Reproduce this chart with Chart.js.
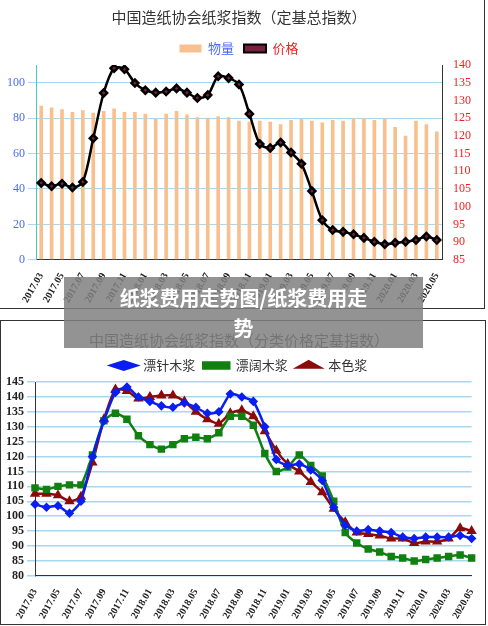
<!DOCTYPE html>
<html lang="zh">
<head>
<meta charset="UTF-8">
<title>纸浆费用走势图</title>
<script src="https://cdn.jsdelivr.net/npm/chart.js@4.4.0/dist/chart.umd.min.js"></script>
<style>
  body { margin: 0; width: 488px; height: 626px; background: #fff; position: relative; overflow: hidden; }
  #top { position: absolute; left: 0; top: 0; width: 484px; height: 308px; border-right: 1px solid #333; border-bottom: 1px solid #333; }
  #bottom { position: absolute; left: 0; top: 320px; width: 484px; height: 303px; border: 1px solid #333; }
  #band { position: absolute; left: 64px; top: 277px; width: 359px; height: 71px; background: rgba(128,128,128,0.85);
          color: #fff; font: bold 20px "Noto Sans CJK SC"; text-align: center; line-height: 30px; padding-top: 6px; box-sizing: border-box; }
</style>
</head>
<body>
<div id="top"><canvas id="c1"></canvas></div>
<div id="bottom"><canvas id="c2"></canvas></div>
<div id="band">纸浆费用走势图/纸浆费用走<br>势</div>
<script>
const months = ['2017.03','2017.04','2017.05','2017.06','2017.07','2017.08','2017.09','2017.10','2017.11','2017.12',
  '2018.01','2018.02','2018.03','2018.04','2018.05','2018.06','2018.07','2018.08','2018.09','2018.10','2018.11','2018.12',
  '2019.01','2019.02','2019.03','2019.04','2019.05','2019.06','2019.07','2019.08','2019.09','2019.10','2019.11','2019.12',
  '2020.01','2020.02','2020.03','2020.04','2020.05'];
const volume = [87,86,85,83.5,84.5,83,84,85.5,83.5,83.5,82.5,79.5,82.5,84,82,80.5,80,81,80.5,78.5,78,78.5,78,76.5,79,79.5,78.5,77.5,79,78.5,80,80,79,80,75,70,78.5,76.5,72.5];
const price = [106.7,105.8,106.5,105.4,107,119.3,132.1,139.1,138.8,134.9,132.9,132.2,132.5,133.4,132.2,130.7,131.5,136.8,136.3,134.5,126.2,117.7,116.6,118.1,115.3,112.1,104.4,96.2,93.4,92.9,92.2,91.2,90.1,89.4,89.8,90.1,90.6,91.6,90.6];
const softwood = [104,103,103.5,101,105,120,132,141.5,143.3,140,138.5,137,136.5,138,136.5,134.5,135,141,140,138.5,130,119,117,117.5,115.5,112,103,97,95,95.5,95,94.5,93,92.5,93,93,93,93.5,92.5];
const hardwood = [109.5,109,110,110.5,110.5,120.5,132,134.5,132.5,127,124,122.5,124,126,126.5,126,128,133.5,133.5,130.5,121,115,116.5,120.5,117,113.5,105,94.5,91,89,88,86.5,86,85,85.5,86,86.5,87,86];
const unbleached = [107.5,107.5,107,105,106.5,118,132.5,142.5,142,139.5,140,140.5,140.5,138.5,135,132.5,131,134.5,135.5,133.5,128.5,122,117.5,115,111.5,108,102.5,98,94.5,94,93.5,92.5,92.5,91,91.5,91.5,92.5,96,95];

const serif = '"Liberation Serif", "DejaVu Serif", serif';
const cjk = '"Noto Sans CJK SC", sans-serif';
const xTicks = {
  autoSkip: false, maxRotation: 60, minRotation: 60, color: '#222',
  font: { family: serif, size: 10, weight: 'bold' },
  callback: function (v, i) { return i % 2 === 0 ? months[i] : ''; }
};

new Chart(document.getElementById('c1'), {
  data: {
    labels: months,
    datasets: [
      { type: 'line', label: '价格', data: price, yAxisID: 'y1', borderColor: '#000', borderWidth: 2.5,
        pointStyle: 'rectRot', pointRadius: 3.5, pointBackgroundColor: '#7a1f3d', pointBorderColor: '#000', tension: 0.3 },
      { type: 'bar', label: '物量', data: volume, yAxisID: 'y', backgroundColor: '#f8c08f', barPercentage: 0.35, categoryPercentage: 1 }
    ]
  },
  options: {
    responsive: true, maintainAspectRatio: false, animation: false,
    layout: { padding: { top: 4, right: 10, left: 4 } },
    plugins: {
      title: { display: true, text: '中国造纸协会纸浆指数（定基总指数）', color: '#333', font: { family: cjk, size: 15, weight: 'normal' }, padding: { top: 4, bottom: 6 } },
      legend: { labels: { boxWidth: 22, boxHeight: 8, font: { family: cjk, size: 13 },
        generateLabels: function (chart) {
          return [
            { text: '物量', fillStyle: '#f8c08f', strokeStyle: '#f8c08f', fontColor: '#4a6cf0', datasetIndex: 1, lineWidth: 0 },
            { text: '价格', fillStyle: '#7a1f3d', strokeStyle: '#000', fontColor: '#f02020', datasetIndex: 0, lineWidth: 2 }
          ];
        } } },
      tooltip: { enabled: false }
    },
    scales: {
      x: { grid: { display: false }, border: { color: '#333' }, ticks: xTicks },
      y: { position: 'left', min: 0, max: 110,
        afterBuildTicks: function (s) { s.ticks = [0,20,40,60,80,100].map(v => ({ value: v })); },
        grid: { color: '#a8d8f0' }, border: { color: '#40d0c0' },
        ticks: { color: '#4a6cf0', font: { family: serif, size: 12 } } },
      y1: { position: 'right', min: 85, max: 140, grid: { display: false }, border: { color: '#333' },
        ticks: { stepSize: 5, autoSkip: false, color: '#f02020', font: { family: serif, size: 12 } } }
    }
  }
});

new Chart(document.getElementById('c2'), {
  type: 'line',
  data: {
    labels: months,
    datasets: [
      { label: '漂针木浆', data: softwood, borderColor: '#0a1ef0', backgroundColor: '#0a1ef0', borderWidth: 2.5, pointStyle: 'rectRot', pointRadius: 3, tension: 0.2 },
      { label: '漂阔木浆', data: hardwood, borderColor: '#108010', backgroundColor: '#108010', borderWidth: 2.5, pointStyle: 'rect', pointRadius: 3.5, tension: 0.2 },
      { label: '本色浆', data: unbleached, borderColor: '#8b0a0a', backgroundColor: '#8b0a0a', borderWidth: 2.5, pointStyle: 'triangle', pointRadius: 3.5, tension: 0.2 }
    ]
  },
  options: {
    responsive: true, maintainAspectRatio: false, animation: false,
    layout: { padding: { top: 2, right: 10, left: 2 } },
    plugins: {
      title: { display: true, text: '中国造纸协会纸浆指数（分类价格定基指数）', color: '#333', font: { family: cjk, size: 15, weight: 'normal' }, padding: { top: 8, bottom: 2 } },
      legend: { labels: { usePointStyle: true, pointStyleWidth: 26, boxHeight: 6, color: '#333', font: { family: cjk, size: 13 }, padding: 8 } },
      tooltip: { enabled: false }
    },
    scales: {
      x: { grid: { display: false }, border: { color: '#333' }, ticks: xTicks },
      y: { min: 80, max: 145, grid: { color: '#a8d8f0', lineWidth: 1.5 }, border: { color: '#333' },
        ticks: { stepSize: 5, autoSkip: false, color: '#222', font: { family: serif, size: 12, weight: 'bold' } } }
    }
  }
});
</script>
</body>
</html>
